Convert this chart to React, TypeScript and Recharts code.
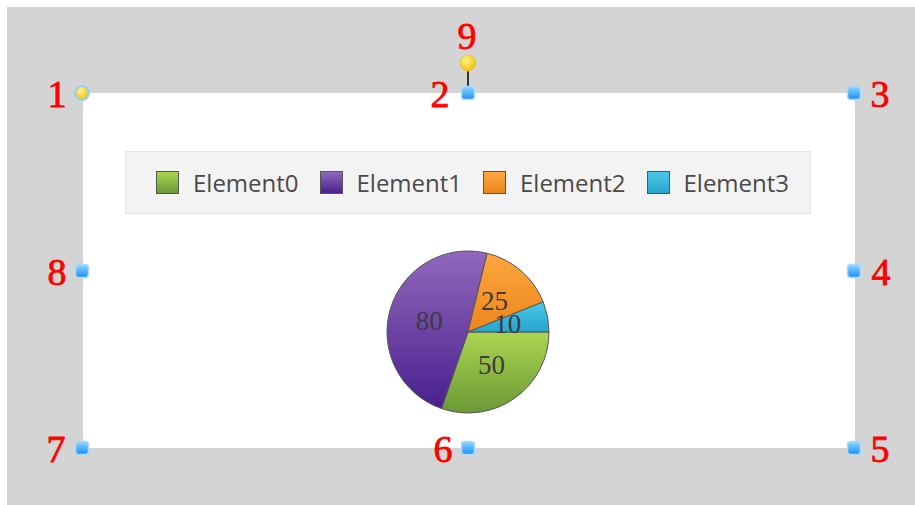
import { PieChart, Pie, Cell, Legend } from "recharts";

const NAMES = ["Element0", "Element1", "Element2", "Element3"];
const VALUES = [50, 80, 25, 10];

// top / bottom colours of each slice gradient
const GRADS = [
  ["#abd550", "#6a9936"],
  ["#9068bb", "#4a208f"],
  ["#fda63f", "#ec861a"],
  ["#4cc8ea", "#25a4cd"],
];

const data = NAMES.map((name, i) => ({ name, value: VALUES[i] }));

// designer handles around the chart area (page coordinates)
const HANDLES = [
  { n: "1", x: 82, y: 93, lx: 57, ly: 107, yellow: true },
  { n: "2", x: 468, y: 93, lx: 440, ly: 107 },
  { n: "3", x: 854, y: 93, lx: 880, ly: 107 },
  { n: "4", x: 854, y: 271, lx: 881, ly: 285 },
  { n: "5", x: 854, y: 448, lx: 880, ly: 462 },
  { n: "6", x: 468, y: 448, lx: 443, ly: 462 },
  { n: "7", x: 82, y: 448, lx: 56, ly: 462 },
  { n: "8", x: 82, y: 271, lx: 57, ly: 285 },
];

const RAD = Math.PI / 180;

function renderLabel(props: any) {
  const { cx, cy, midAngle, outerRadius, value } = props;
  const r = outerRadius * 0.5;
  const x = cx + r * Math.cos(-midAngle * RAD);
  const y = cy + r * Math.sin(-midAngle * RAD);
  return (
    <text
      x={x}
      y={y}
      textAnchor="middle"
      dominantBaseline="central"
      fill="#3c3c3c"
      fontFamily="'Liberation Serif', serif"
      fontSize={27}
    >
      {value}
    </text>
  );
}

function LegendBox() {
  return (
    <div
      style={{
        width: 686,
        height: 63,
        boxSizing: "border-box",
        background: "#f3f3f3",
        border: "1px solid #e6e6e6",
        display: "flex",
        alignItems: "center",
        paddingLeft: 30,
      }}
    >
      {NAMES.map((name, i) => (
        <div key={name} style={{ display: "flex", alignItems: "center", width: 165 }}>
          <div
            style={{
              width: 23,
              height: 23,
              boxSizing: "border-box",
              border: "1.5px solid #555",
              background: `linear-gradient(${GRADS[i][0]}, ${GRADS[i][1]})`,
            }}
          />
          <span
            style={{
              marginLeft: 14,
              fontFamily: "'Open Sans', sans-serif",
              fontSize: 24,
              color: "#4a4a4a",
            }}
          >
            {name}
          </span>
        </div>
      ))}
    </div>
  );
}

export default function App() {
  return (
    <div style={{ position: "absolute", left: 0, top: 0, width: 915, height: 505 }}>
      <div
        style={{ position: "absolute", left: 7, top: 7, width: 908, height: 498, background: "#d4d4d4" }}
      />
      <div
        style={{ position: "absolute", left: 83, top: 93, width: 772, height: 355, background: "#ffffff" }}
      >
        <PieChart width={772} height={355} margin={{ top: 0, right: 0, bottom: 0, left: 0 }}>
          <Legend
            verticalAlign="top"
            content={() => <LegendBox />}
            wrapperStyle={{ top: 58, left: 42, width: 686 }}
          />
          <Pie
            data={data}
            dataKey="value"
            nameKey="name"
            cx={385}
            cy={176}
            outerRadius={81}
            startAngle={0}
            endAngle={-360}
            stroke="#555555"
            strokeWidth={1}
            label={renderLabel}
            labelLine={false}
            isAnimationActive={false}
          >
            {data.map((_, i) => (
              <Cell key={i} fill={`url(#slice${i})`} />
            ))}
          </Pie>
        </PieChart>
      </div>
      <svg
        width={915}
        height={505}
        style={{ position: "absolute", left: 0, top: 0, pointerEvents: "none" }}
      >
        <defs>
          {GRADS.map((g, i) => (
            <linearGradient key={i} id={`slice${i}`} x1="0" y1="0" x2="0" y2="1">
              <stop offset="0%" stopColor={g[0]} />
              <stop offset="100%" stopColor={g[1]} />
            </linearGradient>
          ))}
          <linearGradient id="handleBlue" x1="0" y1="0" x2="0" y2="1">
            <stop offset="0%" stopColor="#8fd8ff" />
            <stop offset="100%" stopColor="#1d8ff0" />
          </linearGradient>
          <radialGradient id="handleYellow" cx="0.4" cy="0.35" r="0.7">
            <stop offset="0%" stopColor="#fff38a" />
            <stop offset="100%" stopColor="#f0bb00" />
          </radialGradient>
        </defs>
        <line x1={468} y1={70} x2={468} y2={87} stroke="#000" strokeWidth={1.5} />
        <circle cx={468} cy={63} r={8} fill="url(#handleYellow)" stroke="#e6c74a" strokeWidth={1} />
        <text
          x={467}
          y={49}
          textAnchor="middle"
          fill="#ff0000"
          stroke="#ff0000"
          strokeWidth={0.8}
          fontFamily="'Liberation Serif', serif"
          fontSize={38}
        >
          9
        </text>
        {HANDLES.map((h) => (
          <g key={h.n}>
            {h.yellow ? (
              <circle cx={h.x} cy={h.y} r={7} fill="url(#handleYellow)" stroke="#8fd0ff" strokeWidth={2} />
            ) : (
              <rect
                x={h.x - 6.5}
                y={h.y - 6.5}
                width={13}
                height={13}
                rx={3}
                fill="url(#handleBlue)"
                stroke="#a8dcff"
                strokeWidth={1.5}
              />
            )}
            <text
              x={h.lx}
              y={h.ly}
              textAnchor="middle"
              fill="#ff0000"
              stroke="#ff0000"
              strokeWidth={0.8}
              fontFamily="'Liberation Serif', serif"
              fontSize={38}
            >
              {h.n}
            </text>
          </g>
        ))}
      </svg>
    </div>
  );
}
